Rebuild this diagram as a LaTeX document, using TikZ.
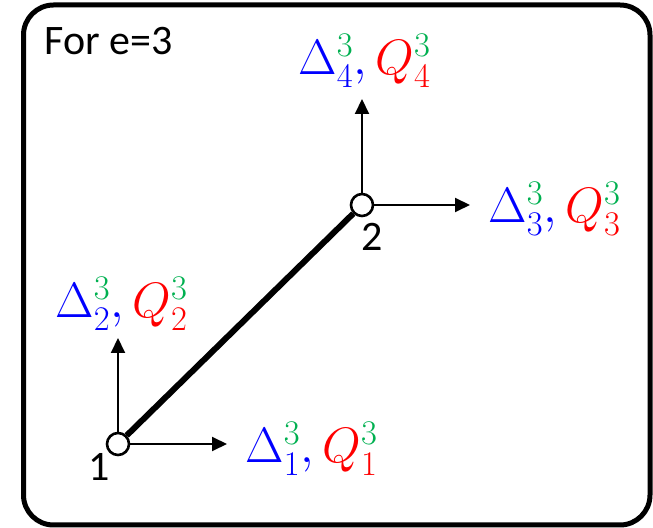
\documentclass[tikz,border=0pt]{standalone}
\usepackage{fontspec}
\setmainfont{Carlito}
\usepackage{xcolor}
\usepackage{tikz}
\usetikzlibrary{arrows.meta, positioning}
\definecolor{dblue}{RGB}{0,0,255}
\definecolor{dred}{RGB}{255,0,0}
\definecolor{dgreen}{RGB}{0,176,80}
\newcommand{\dofl}[1]{$\textcolor{dblue}{\Delta^{\textcolor{dgreen}{3}}_{#1},}\,\textcolor{dred}{Q^{\textcolor{dgreen}{3}}_{#1}}$}
\tikzset{
  frame/.style={draw=black, line width=2.5pt, rounded corners=15pt},
  joint/.style={circle, draw=black, fill=white, line width=1.3pt,
    minimum size=11pt, inner sep=0pt},
  bar/.style={line width=3pt, color=black},
  arrow/.style={-{Triangle[length=7.5pt,width=7pt]}, line width=1pt, color=black},
  txt/.style={font=\fontsize{21}{25}\selectfont, inner sep=0pt},
  lbl/.style={font=\fontsize{24}{28}\selectfont, inner sep=0pt}
}
\begin{document}
\begin{tikzpicture}[x=0.5pt, y=-0.5pt]
  \useasboundingbox (0,0) rectangle (653,528);
  % Frame
  \draw[frame] (23.5,5) rectangle (650,525);
  \node[txt, anchor=base west] (title) at (44,55) {For e=3};

  % Joints
  \node[joint] (n1) at (118,444) {};
  \node[joint] (n2) at (362,205) {};
  \node[txt] (k1) at (99,467) {1};
  \node[txt] (k2) at (372,237) {2};

  % Member
  \draw[bar] (n1) -- (n2);

  % Arrow ends
  \coordinate (a1) at (227,444);
  \coordinate (a2) at (118,338);
  \coordinate (a3) at (470,205);
  \coordinate (a4) at (362,99);

  % Arrows
  \draw[arrow] (n1) -- (a1);
  \draw[arrow] (n1) -- (a2);
  \draw[arrow] (n2) -- (a3);
  \draw[arrow] (n2) -- (a4);

  % Labels
  \node[lbl, anchor=base west] (l1) at (245,463) {\dofl{1}};
  \node[lbl, anchor=base west] (l2) at (55,318) {\dofl{2}};
  \node[lbl, anchor=base west] (l3) at (488,223) {\dofl{3}};
  \node[lbl, anchor=base west] (l4) at (298,75) {\dofl{4}};
\end{tikzpicture}
\end{document}
